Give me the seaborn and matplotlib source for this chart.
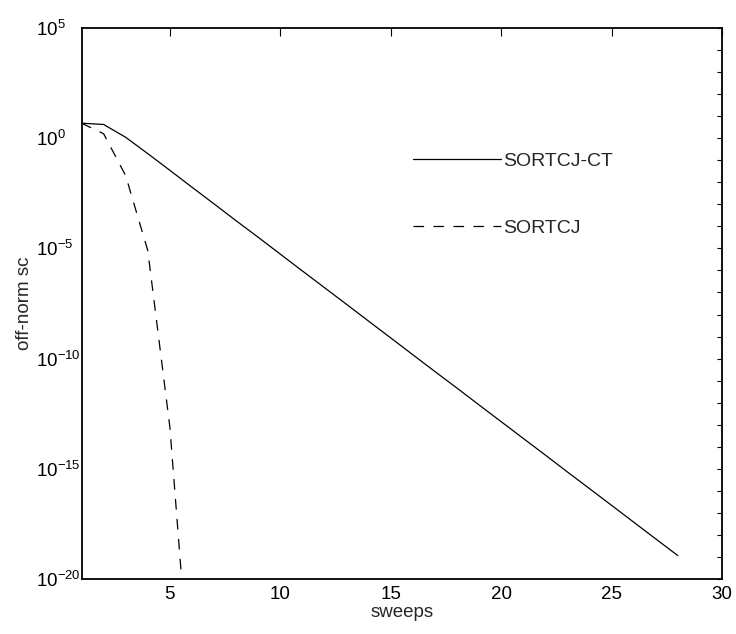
import numpy as np
import pandas as pd
import matplotlib
matplotlib.use("Agg")
import matplotlib.pyplot as plt
import matplotlib.ticker as mticker
import seaborn as sns

# ---- data ----
sweeps_ct = list(range(1, 29))
offnorm_ct = [4.8, 4.2, 1.1, 2.0e-1, 3.5e-2, 6.0e-3, 1.05e-3, 1.8e-4, 3.2e-5,
              5.5e-6, 9.5e-7, 1.66e-7, 2.9e-8, 5.0e-9, 8.7e-10, 1.5e-10,
              2.6e-11, 4.6e-12, 7.9e-13, 1.38e-13, 2.4e-14, 4.2e-15, 7.2e-16,
              1.26e-16, 2.2e-17, 3.8e-18, 6.6e-19, 1.15e-19]
sweeps_j = [1, 2, 3, 4, 5, 6]
offnorm_j = [4.8, 1.6, 2.0e-2, 8.0e-6, 8.0e-14, 1.0e-26]

label_ct = "SORTCJ-CT"
label_j = "SORTCJ"
xticks = [5, 10, 15, 20, 25, 30]
ymajor_exp = [5, 0, -5, -10, -15, -20]

sns.set_theme(style="white")
plt.rcParams["font.family"] = ["Liberation Sans", "DejaVu Sans"]
plt.rcParams["mathtext.fontset"] = "custom"
plt.rcParams["mathtext.rm"] = "Liberation Sans"
plt.rcParams["mathtext.default"] = "regular"
plt.rcParams["axes.unicode_minus"] = False

df_ct = pd.DataFrame({"sweeps": sweeps_ct, "val": offnorm_ct})
df_j = pd.DataFrame({"sweeps": sweeps_j, "val": offnorm_j})

W, H = 736, 634
L, R, T, B = 81.5, 722, 28, 579
fig = plt.figure(figsize=(W / 100, H / 100), dpi=100)
ax = fig.add_axes([L / W, 1 - B / H, (R - L) / W, (B - T) / H])
ax.set_yscale("log")

sns.lineplot(data=df_ct, x="sweeps", y="val", ax=ax, color="black",
             linewidth=0.9, label=label_ct, estimator=None)
sns.lineplot(data=df_j, x="sweeps", y="val", ax=ax, color="black",
             linewidth=0.9, label=label_j, estimator=None)
ax.lines[1].set_dashes((8.5, 7.5))

ax.set_xlim(1, 30)
ax.set_ylim(1e-20, 1e5)
ax.set_xticks(xticks)
ax.yaxis.set_major_locator(mticker.FixedLocator([10.0 ** e for e in ymajor_exp]))
ax.yaxis.set_minor_locator(mticker.FixedLocator([10.0 ** e for e in range(-20, 6)]))
ax.yaxis.set_minor_formatter(mticker.NullFormatter())
ax.set_yticklabels([r"$10^{%d}$" % e for e in ymajor_exp])

ax.tick_params(axis="both", which="both", direction="in", top=True, right=True,
               width=0.8, colors="black")
ax.tick_params(axis="x", which="both", length=6, labelsize=13.5, pad=5)
ax.tick_params(axis="y", which="both", length=3.6, labelsize=13.5,
               pad=(L - 36) / 1.389)
for lab in ax.get_yticklabels():
    lab.set_horizontalalignment("left")
for s in ax.spines.values():
    s.set_color("black")
    s.set_linewidth(1.3)

ax.set_xlabel("sweeps", fontsize=13.5, labelpad=1)
ax.set_ylabel("off-norm sc", fontsize=13.5)
ax.yaxis.set_label_coords((33 - L) / (R - L), 0.5)

leg = ax.legend(loc="upper left", bbox_to_anchor=(413 / W, 1 - 152 / H),
                bbox_transform=fig.transFigure, frameon=False, fontsize=14,
                handlelength=4.5, handletextpad=0.12, labelspacing=2.55,
                borderpad=0, borderaxespad=0)
leg.get_lines()[1].set_dashes((8.5, 7.5))

fig.savefig("out.png", dpi=100, facecolor="white")
